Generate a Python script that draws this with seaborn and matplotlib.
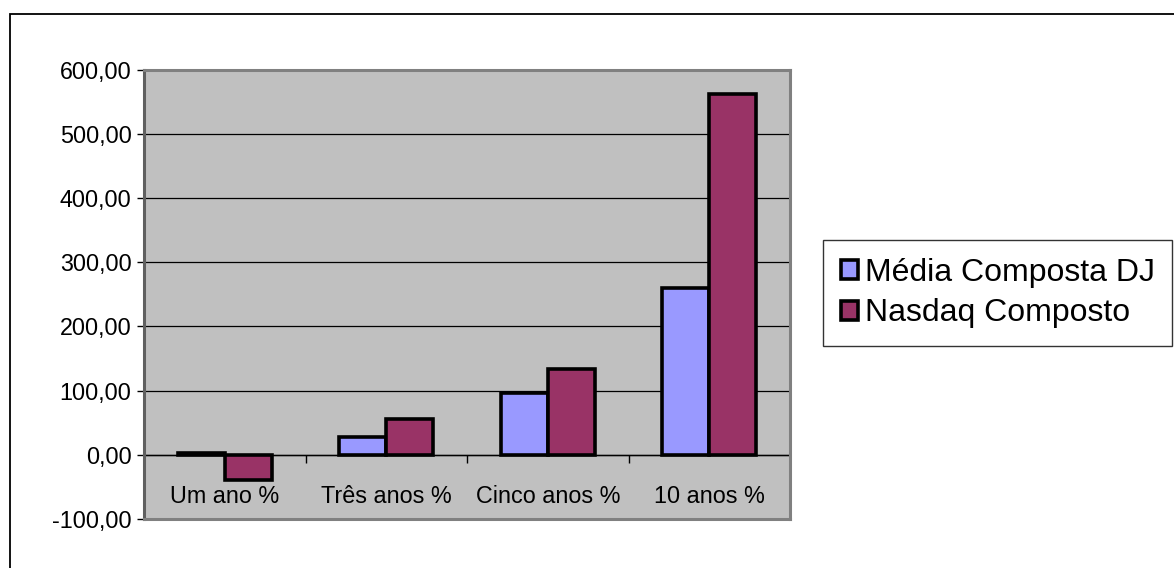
import matplotlib
matplotlib.use("Agg")
import matplotlib.pyplot as plt
import seaborn as sns
import pandas as pd
from matplotlib.patches import Patch, Rectangle
from matplotlib.ticker import FuncFormatter, FixedLocator

categories = ["Um ano %", "Três anos %", "Cinco anos %", "10 anos %"]
series_names = ["Média Composta DJ", "Nasdaq Composto"]
dj_values = [3.0, 27.0, 96.0, 260.0]
nasdaq_values = [-39.0, 56.5, 134.0, 562.0]
y_ticks = [-100, 0, 100, 200, 300, 400, 500, 600]
colors = ["#9999FF", "#993366"]

df = pd.DataFrame({
    "categoria": categories * 2,
    "serie": [series_names[0]] * 4 + [series_names[1]] * 4,
    "valor": dj_values + nasdaq_values,
})

sns.set_theme(style="white")
plt.rcParams["font.family"] = ["Liberation Sans", "DejaVu Sans"]

fig = plt.figure(figsize=(11.74, 5.68), dpi=100)
W, H = 1174, 568
ax = fig.add_axes([144 / W, 1 - 519 / H, (790 - 144) / W, (519 - 69.5) / H])
ax.set_facecolor("#C0C0C0")

sns.barplot(data=df, x="categoria", y="valor", hue="serie", order=categories,
            hue_order=series_names, palette=colors, width=0.58, gap=0,
            edgecolor="black", linewidth=2.6, saturation=1, ax=ax,
            legend=False, zorder=3)

ax.set_ylim(-100, 600)
ax.set_xlim(-0.5, 3.5)
ax.set_yticks(y_ticks)
ax.yaxis.set_major_formatter(FuncFormatter(lambda v, p: f"{v:.2f}".replace(".", ",")))
ax.tick_params(axis="y", direction="out", length=5, width=1, color="black",
               labelsize=16.8, labelcolor="black", pad=4, left=True)
ax.tick_params(axis="x", bottom=False, labelbottom=False)
ax.set_xlabel("")
ax.set_ylabel("")
ax.grid(axis="y", color="black", linewidth=0.9, zorder=1)
ax.set_axisbelow(True)
for s in ax.spines.values():
    s.set_color("#808080")
    s.set_linewidth(2.2)
ax.spines["left"].set_color("#606060")

# category axis at zero
sec = ax.secondary_xaxis(100 / 700)
sec.xaxis.set_major_locator(FixedLocator([-0.5, 0.5, 1.5, 2.5, 3.5]))
sec.xaxis.set_major_formatter(FuncFormatter(lambda v, p: ""))
sec.set_xticks(range(len(categories)), labels=categories, minor=True)
sec.tick_params(which="major", direction="out", length=6, width=1, color="black")
sec.tick_params(which="minor", length=0, pad=22, labelsize=16.8, labelcolor="black")
sec.spines["bottom"].set_color("black")
sec.spines["bottom"].set_linewidth(1.0)

handles = [Patch(facecolor=c, edgecolor="black", linewidth=2.6) for c in colors]
leg = fig.legend(handles, series_names, loc="upper left",
                 bbox_to_anchor=(823 / W, 1 - 240 / H), fontsize=23,
                 frameon=True, fancybox=False, shadow=False, borderpad=0.55,
                 handlelength=0.55, handleheight=0.55, handletextpad=0.2,
                 labelspacing=0.34, borderaxespad=0)
leg.get_frame().set_edgecolor("black")
leg.get_frame().set_linewidth(1.0)
leg.get_frame().set_boxstyle("square", pad=0)
for t in leg.get_texts():
    t.set_color("black")

fig.add_artist(Rectangle((10 / W, -0.2), 1.5, (1 - 14 / H) + 0.2, transform=fig.transFigure,
                         fill=False, edgecolor="black", linewidth=1.3, clip_on=False))

fig.savefig("out.png", dpi=100)
